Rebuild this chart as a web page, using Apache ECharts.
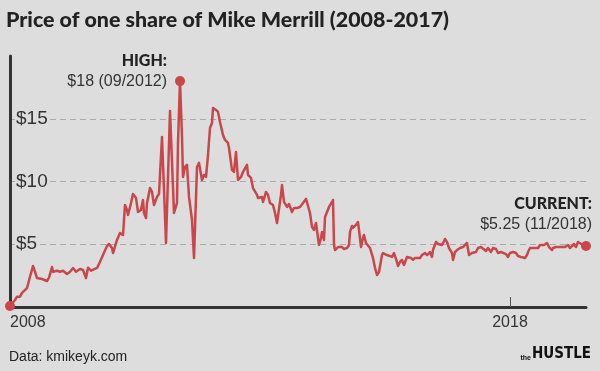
<!DOCTYPE html>
<html>
<head>
<meta charset="utf-8">
<script src="https://cdn.jsdelivr.net/npm/echarts@6/dist/echarts.min.js"></script>
<style>
html,body{margin:0;padding:0;background:#dddddd;}
#c{width:600px;height:371px;}
</style>
</head>
<body>
<div id="c"></div>
<script>
// Decimal year of each observation
const years = [
2008.00,2008.10,2008.14,2008.20,2008.24,2008.26,2008.34,2008.40,2008.46,2008.50,2008.54,2008.64,2008.74,2008.78,2008.84,2008.86,2008.94,
2009.00,2009.06,2009.14,2009.20,2009.26,2009.32,2009.40,2009.46,2009.52,2009.56,2009.62,2009.66,2009.74,2009.80,2009.86,2009.94,2009.98,
2010.04,2010.06,2010.14,2010.20,2010.26,2010.30,2010.34,2010.36,2010.42,2010.46,2010.52,2010.56,2010.62,2010.66,2010.68,2010.72,2010.74,2010.80,2010.84,2010.88,2010.94,2010.98,
2011.04,2011.12,2011.20,2011.28,2011.34,2011.36,2011.40,2011.44,2011.46,2011.50,2011.54,2011.58,2011.64,2011.68,2011.74,2011.78,2011.84,2011.88,2011.92,2011.96,
2012.00,2012.04,2012.06,2012.12,2012.16,2012.20,2012.26,2012.30,2012.36,2012.38,2012.44,2012.48,2012.52,2012.56,2012.62,2012.66,2012.70,2012.74,2012.76,2012.82,2012.86,2012.94,2012.96,
2013.04,2013.06,2013.12,2013.16,2013.20,2013.26,2013.30,2013.34,2013.38,2013.42,2013.44,2013.48,2013.54,2013.58,2013.64,2013.68,2013.74,2013.80,2013.86,2013.92,2013.96,
2014.00,2014.04,2014.08,2014.12,2014.16,2014.18,2014.22,2014.24,2014.28,2014.30,2014.34,2014.38,2014.44,2014.46,2014.48,2014.50,2014.56,2014.64,2014.68,2014.74,2014.78,2014.80,2014.84,2014.86,2014.92,2014.96,2014.98,
2015.02,2015.06,2015.08,2015.12,2015.16,2015.20,2015.24,2015.26,2015.30,2015.34,2015.38,2015.44,2015.46,2015.54,2015.58,2015.64,2015.68,2015.72,2015.76,2015.80,2015.84,2015.88,2015.94,2015.96,
2016.02,2016.06,2016.10,2016.14,2016.20,2016.24,2016.26,2016.30,2016.34,2016.40,2016.44,2016.46,2016.52,2016.56,2016.60,2016.64,2016.70,2016.74,2016.78,2016.84,2016.86,2016.90,2016.94,
2017.00,2017.06,2017.10,2017.14,2017.18,2017.24,2017.28,2017.32,2017.36,2017.42,2017.46,2017.52,2017.56,2017.62,2017.66,2017.72,2017.76,2017.82,2017.86,2017.92,2017.96,
2018.00,2018.06,2018.12,2018.16,2018.22,2018.26,2018.30,2018.34,2018.36,2018.40,2018.44,2018.46,2018.50,2018.56,2018.60,2018.64,2018.68,2018.74,2018.78,2018.84,2018.86,2018.92,2018.96,
2019.04,2019.10,2019.16,2019.20,2019.24,2019.28,2019.32,2019.36,2019.40,2019.46,2019.52
];
// Share price in dollars
const prices = [
0.08,0.56,0.82,0.82,1.12,1.22,1.51,2.41,3.27,2.81,2.31,2.23,2.07,2.34,3.19,2.81,2.89,
2.81,2.89,2.63,2.81,3.11,2.81,3.03,2.95,2.31,3.13,2.89,2.95,3.11,3.61,4.14,4.86,5.02,
4.70,4.30,5.34,5.90,5.74,8.13,7.73,7.33,8.29,9.01,8.69,7.57,7.73,8.53,7.49,7.09,8.29,9.48,9.17,8.13,8.77,9.01,
13.55,5.10,15.62,7.49,8.29,13.07,18.00,13.55,10.36,11.16,11.32,8.77,6.93,3.91,11.16,11.48,10.12,10.52,10.36,12.11,
14.27,14.66,15.86,15.70,15.54,14.74,13.71,13.31,13.07,12.67,10.92,10.76,12.35,10.12,10.36,10.76,10.68,11.32,10.52,10.28,9.48,8.93,8.69,
8.77,8.37,9.17,8.93,8.29,8.13,7.49,6.69,6.69,8.93,9.72,8.37,7.97,8.21,7.57,7.89,7.89,7.97,8.29,8.61,8.69,
7.49,6.38,6.14,6.69,5.50,4.94,5.50,5.98,5.34,7.17,7.57,7.97,8.37,8.53,4.94,4.54,4.78,4.78,4.62,4.70,4.94,5.98,6.46,6.30,6.54,6.77,6.14,
4.78,5.50,5.74,5.10,5.18,4.70,4.70,3.91,3.11,2.55,2.79,4.14,4.30,4.14,4.22,3.99,4.30,3.83,3.27,3.59,3.75,3.35,3.99,4.14,
3.91,3.75,3.91,3.99,3.91,4.14,3.99,4.30,4.14,4.38,3.99,4.54,5.18,5.02,5.10,4.94,5.42,5.18,4.70,4.30,3.75,4.38,4.54,
4.70,4.78,4.70,5.10,4.14,4.30,4.30,4.38,4.70,4.78,4.70,4.46,4.70,4.38,4.70,4.62,4.30,4.38,4.46,4.22,3.99,
4.30,4.38,4.30,4.06,3.99,4.14,3.91,4.14,4.38,4.70,4.78,4.70,4.78,4.70,4.94,4.86,4.94,5.10,4.78,4.54,4.70,4.78,4.86,
4.78,4.78,4.94,4.70,4.78,5.02,4.78,5.18,5.10,4.94,4.86
];
const yTickValues = [5, 10, 15];
const xLabelValues = [2008, 2018];
const xTickValues = [2018];
const titleText = 'Price of one share of Mike Merrill (2008-2017)';
const highLabel = ['HIGH:', '$18 (09/2012)'];
const currentLabel = ['CURRENT:', '$5.25 (11/2018)'];
const sourceText = 'Data: kmikeyk.com';

const data = years.map((y, i) => [y, prices[i]]);
const last = data.length - 1;
const RED = '#c9474a';
const BG = '#dddddd';
const richLabel = {
  b: {fontFamily: 'Lato', fontWeight: 900, fontSize: 16, color: '#222', lineHeight: 21, align: 'right'},
  n: {fontFamily: 'Liberation Sans', fontSize: 16, color: '#333', lineHeight: 21, align: 'right'}
};

const chart = echarts.init(document.getElementById('c'), null, {renderer: 'canvas'});
chart.setOption({
  backgroundColor: BG,
  animation: false,
  title: [
    {text: titleText, left: 6, top: 10, padding: 0,
     textStyle: {fontFamily: 'Lato', fontWeight: 900, fontSize: 21.4, color: '#222'}},
    {text: sourceText, left: 9, top: 350, padding: 0,
     textStyle: {fontFamily: 'Liberation Sans', fontWeight: 'normal', fontSize: 14, color: '#222'}},
    {text: '{t|the}{h|HUSTLE}', right: 9, top: 347, padding: 0,
     textStyle: {rich: {
       t: {fontSize: 7, fontFamily: 'Liberation Sans', fontWeight: 'bold', color: '#111', verticalAlign: 'bottom', padding: [0, 1, 0, 0]},
       h: {fontSize: 15, fontFamily: "'DejaVu Sans Condensed', 'Liberation Sans', sans-serif", fontWeight: 'bold', color: '#111'}
     }}}
  ],
  grid: {left: 10, right: 14, top: 56, bottom: 64, containLabel: false},
  xAxis: {
    type: 'value', min: 2008, max: 2019.52,
    axisLine: {show: true, lineStyle: {color: '#333', width: 3}},
    axisTick: {show: true, inside: true, length: 10, customValues: xTickValues, lineStyle: {color: '#555', width: 1}},
    axisLabel: {customValues: xLabelValues, fontFamily: 'Liberation Sans', fontSize: 16, color: '#333', margin: 8,
                alignMinLabel: 'left', formatter: v => String(v)},
    splitLine: {show: false}
  },
  yAxis: {
    type: 'value', min: 0, max: 20, interval: 5,
    axisLine: {show: true, lineStyle: {color: '#333', width: 3}},
    axisTick: {show: false},
    axisLabel: {inside: true, margin: 5, customValues: yTickValues, formatter: v => '$' + v,
                fontFamily: 'Liberation Sans', fontSize: 19, color: '#333',
                backgroundColor: BG, padding: [0, 1, 0, 1]},
    splitLine: {show: true, showMinLine: false, showMaxLine: false,
                lineStyle: {color: '#aaaaaa', width: 1, type: [6, 4]}}
  },
  series: [{
    type: 'line',
    data: data,
    showSymbol: false,
    clip: false,
    lineStyle: {color: RED, width: 2.5, join: 'round'},
    itemStyle: {color: RED},
    markPoint: {
      symbol: 'circle', symbolSize: 10,
      itemStyle: {color: RED},
      data: [
        {coord: data[0], label: {show: false}},
        {type: 'max', valueDim: 'y',
         label: {show: true, position: [-8, 16], align: 'right', verticalAlign: 'bottom',
                 formatter: '{b|' + highLabel[0] + '}\n{n|' + highLabel[1] + '}', rich: richLabel}},
        {coord: data[last],
         label: {show: true, position: [11, -6], align: 'right', verticalAlign: 'bottom',
                 formatter: '{b|' + currentLabel[0] + '}\n{n|' + currentLabel[1] + '}', rich: richLabel}}
      ]
    }
  }]
});
</script>
</body>
</html>
